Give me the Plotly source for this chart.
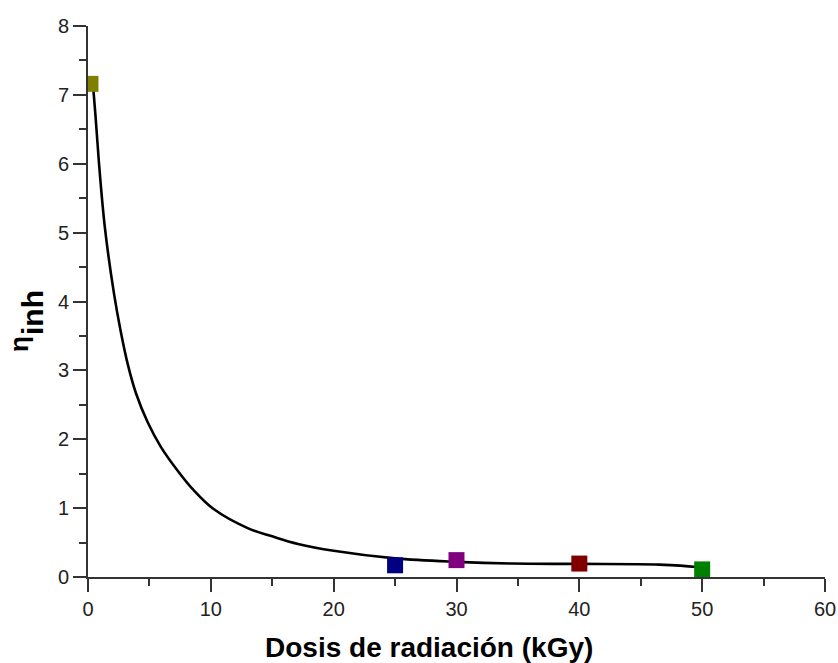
import plotly.graph_objects as go

# Measured inherent viscosity vs. radiation dose
dose = [0.2, 25, 30, 40, 50]
eta_inh = [7.16, 0.17, 0.245, 0.195, 0.11]
marker_colors = ["#808000", "#000080", "#800080", "#800000", "#008000"]

# Smoothed trend curve
curve_dose = [0.4, 0.6, 0.88, 1.37, 2.12, 2.65, 3.25, 3.92, 4.85, 5.93, 7.27,
              8.6, 10.2, 13.0, 15.0, 17.1, 20.0, 25.0, 30.0, 34.5, 40.0,
              46.5, 49.5, 50.0]
curve_eta = [7.16, 6.72, 6.04, 5.08, 4.11, 3.58, 3.08, 2.66, 2.25, 1.89, 1.55,
             1.26, 0.99, 0.71, 0.59, 0.48, 0.38, 0.27, 0.22, 0.195, 0.19,
             0.18, 0.145, 0.13]

x_ticks = [0, 10, 20, 30, 40, 50, 60]
y_ticks = [0, 1, 2, 3, 4, 5, 6, 7, 8]

W, H = 838, 663
ML, MR, MT, MB = 88, 13, 26, 86
PW, PH = W - ML - MR, H - MT - MB


def px_to_paper(px, py):
    return (px - ML) / PW, (H - MB - py) / PH


fig = go.Figure()

fig.add_trace(go.Scatter(
    x=curve_dose, y=curve_eta, mode="lines",
    line=dict(color="black", width=2.6, shape="spline", smoothing=1.0),
    hoverinfo="skip", showlegend=False,
))

fig.add_trace(go.Scatter(
    x=dose, y=eta_inh, mode="markers",
    marker=dict(symbol="square", size=16, color=marker_colors, line=dict(width=0)),
    showlegend=False,
))

tick_font = dict(family="Liberation Sans, Arial, sans-serif", size=20, color="#222")
axis_common = dict(
    showline=True, linecolor="#333", linewidth=1.6,
    ticks="outside", ticklen=13, tickwidth=1.6, tickcolor="#333",
    showgrid=False, zeroline=False, tickfont=tick_font,
    ticklabeloverflow="allow", automargin=False,
)

fig.update_xaxes(range=[0, 60], tickvals=x_ticks,
                 minor=dict(dtick=5, tick0=0, ticks="outside", ticklen=7,
                            tickwidth=1.6, tickcolor="#333", showgrid=False),
                 **axis_common)
fig.update_yaxes(range=[0, 8], tickvals=y_ticks,
                 minor=dict(dtick=0.5, tick0=0, ticks="outside", ticklen=7,
                            tickwidth=1.6, tickcolor="#333", showgrid=False),
                 **axis_common)

title_font = dict(family="Liberation Sans, Arial, sans-serif", color="black")

xt, yt = px_to_paper(429, 648)
fig.add_annotation(
    text="<b>Dosis de radiación (kGy)</b>", xref="paper", yref="paper",
    x=xt, y=yt, xanchor="center", yanchor="middle", showarrow=False,
    font=dict(size=28, **title_font),
)

ex, ey = px_to_paper(19, 344)
fig.add_annotation(
    text="<b>η</b>", xref="paper", yref="paper", x=ex, y=ey,
    xanchor="center", yanchor="middle", textangle=-90, showarrow=False,
    font=dict(size=26, **title_font),
)
sx, sy = px_to_paper(33, 313)
fig.add_annotation(
    text="<b>inh</b>", xref="paper", yref="paper", x=sx, y=sy,
    xanchor="center", yanchor="middle", textangle=-90, showarrow=False,
    font=dict(size=30, **title_font),
)

fig.update_layout(
    width=W, height=H,
    margin=dict(l=ML, r=MR, t=MT, b=MB, pad=0),
    paper_bgcolor="white", plot_bgcolor="white",
)

fig.write_html("out.html")
